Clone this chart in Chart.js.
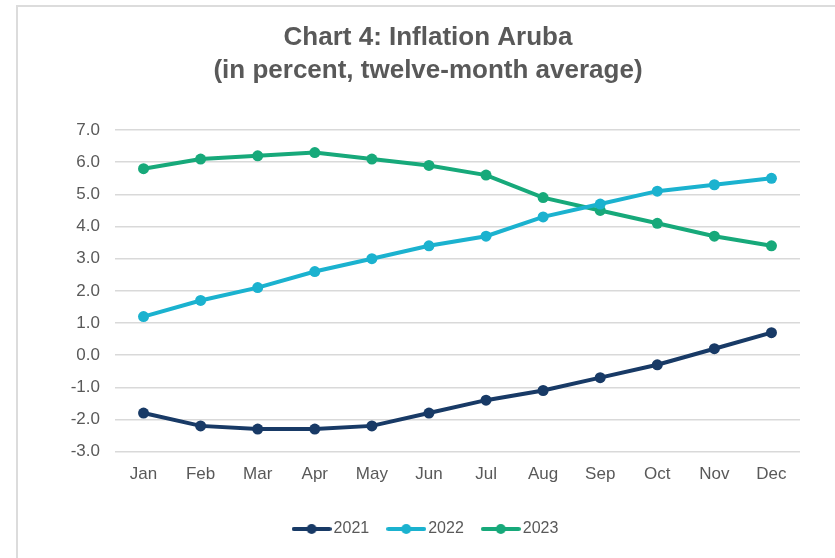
<!DOCTYPE html>
<html>
<head>
<meta charset="utf-8">
<script src="https://cdn.jsdelivr.net/npm/chart.js@4/dist/chart.umd.min.js"></script>
<style>
  html, body { margin: 0; padding: 0; background: #ffffff; overflow: hidden; }
  #c { position: absolute; left: 0; top: 0; }
</style>
</head>
<body>
<canvas id="c" width="835" height="558"></canvas>
<script>
const months = ['Jan','Feb','Mar','Apr','May','Jun','Jul','Aug','Sep','Oct','Nov','Dec'];
const series2021 = [-1.8, -2.2, -2.3, -2.3, -2.2, -1.8, -1.4, -1.1, -0.7, -0.3, 0.2, 0.7];
const series2022 = [1.2, 1.7, 2.1, 2.6, 3.0, 3.4, 3.7, 4.3, 4.7, 5.1, 5.3, 5.5];
const series2023 = [5.8, 6.1, 6.2, 6.3, 6.1, 5.9, 5.6, 4.9, 4.5, 4.1, 3.7, 3.4];
const seriesNames = ['2021', '2022', '2023'];
const yMin = -3, yMax = 7, yStep = 1;
const titleLines = ['Chart 4: Inflation Aruba', '(in percent, twelve-month average)'];

const colors = ['#183a66', '#1bb2cf', '#17a97a'];
const textColor = '#595959';

function makeMarker(color) {
  const cv = document.createElement('canvas');
  cv.width = 40; cv.height = 12;
  const g = cv.getContext('2d');
  g.strokeStyle = color; g.lineWidth = 4; g.lineCap = 'round';
  g.beginPath(); g.moveTo(2, 6); g.lineTo(38, 6); g.stroke();
  g.fillStyle = color;
  g.beginPath(); g.arc(20, 6, 5, 0, Math.PI * 2); g.fill();
  return cv;
}
const markers = colors.map(makeMarker);

const framePlugin = {
  id: 'frame',
  beforeDraw(chart) {
    const ctx = chart.ctx;
    ctx.save();
    ctx.fillStyle = '#ffffff';
    ctx.fillRect(0, 0, chart.width, chart.height);
    ctx.strokeStyle = '#dcdcdc';
    ctx.lineWidth = 2;
    ctx.beginPath();
    ctx.moveTo(17, chart.height);
    ctx.lineTo(17, 6);
    ctx.lineTo(chart.width, 6);
    ctx.stroke();
    ctx.restore();
  }
};

const allSeries = [series2021, series2022, series2023];
const datasets = allSeries.map((d, i) => ({
  label: seriesNames[i],
  data: d,
  borderColor: colors[i],
  backgroundColor: colors[i],
  borderWidth: 4,
  pointRadius: 5.5,
  pointHoverRadius: 5.5,
  pointBorderWidth: 0,
  tension: 0
}));

new Chart(document.getElementById('c'), {
  type: 'line',
  data: { labels: months, datasets },
  plugins: [framePlugin],
  options: {
    responsive: false,
    devicePixelRatio: 1,
    animation: false,
    layout: { padding: { left: 56, right: 35, top: 0, bottom: 11 } },
    plugins: {
      title: {
        display: true,
        text: titleLines,
        color: textColor,
        font: { family: '"Liberation Sans", Arial, sans-serif', size: 26, weight: 'bold', lineHeight: 1.29 },
        padding: { top: 21, bottom: 42 }
      },
      legend: {
        position: 'bottom',
        labels: {
          color: textColor,
          font: { family: '"Liberation Sans", Arial, sans-serif', size: 16 },
          usePointStyle: true,
          pointStyleWidth: 28,
          padding: 23,
          generateLabels(chart) {
            const items = Chart.defaults.plugins.legend.labels.generateLabels(chart);
            items.forEach((it, i) => { it.pointStyle = markers[i]; });
            return items;
          }
        }
      },
      tooltip: { enabled: false }
    },
    scales: {
      x: {
        offset: true,
        grid: { display: false, drawTicks: false, offset: true },
        border: { display: false },
        ticks: {
          color: textColor,
          font: { family: '"Liberation Sans", Arial, sans-serif', size: 17 },
          padding: 13
        }
      },
      y: {
        min: yMin, max: yMax,
        grid: { color: '#d9d9d9', lineWidth: 1.5, drawTicks: false },
        border: { display: false },
        ticks: {
          stepSize: yStep,
          color: textColor,
          font: { family: '"Liberation Sans", Arial, sans-serif', size: 17 },
          padding: 15,
          callback: (v) => Number(v).toFixed(1)
        },
        afterFit(scale) { scale.width = 59; }
      }
    }
  }
});
</script>
</body>
</html>
